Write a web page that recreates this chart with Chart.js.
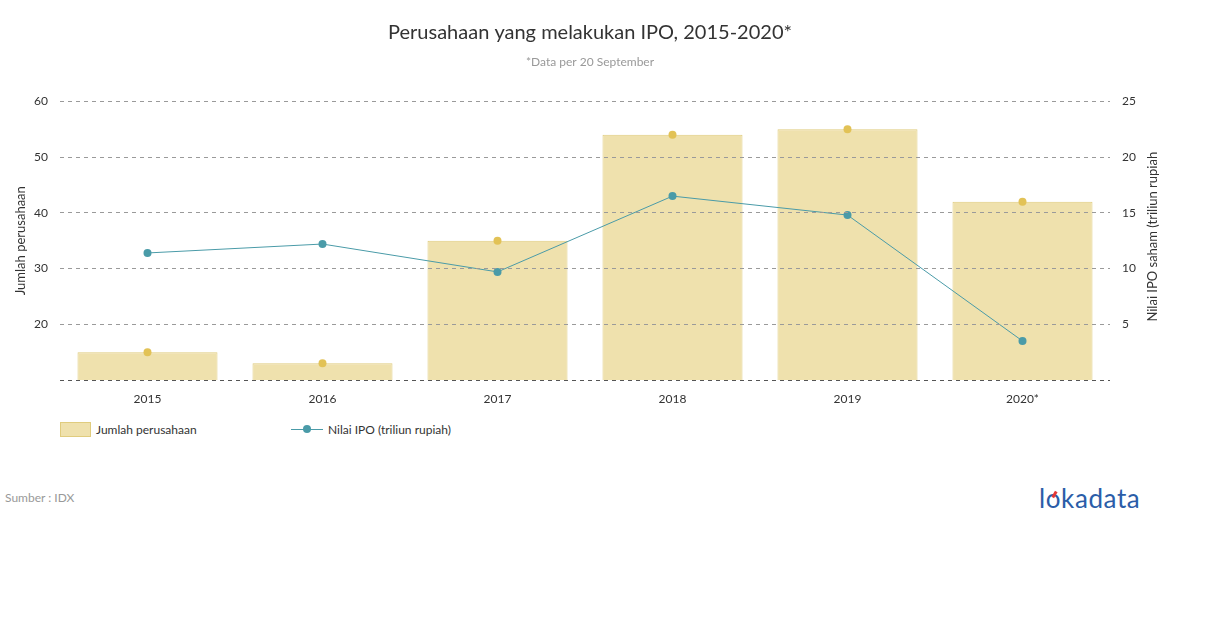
<!DOCTYPE html>
<html>
<head>
<meta charset="utf-8">
<script src="https://cdn.jsdelivr.net/npm/chart.js@4"></script>
<style>
  html, body { margin: 0; padding: 0; background: #fff; font-family: Lato, "Open Sans", sans-serif; }
  #wrap { position: relative; width: 1210px; height: 628px; }
  #chartBox { position: absolute; left: 0; top: 0; width: 1210px; height: 420px; }
  .legend { position: absolute; top: 422px; font-size: 12px; color: #333; display: flex; align-items: center; }
  .swatch { width: 31px; height: 15px; background: #EFE1AD; border: 1px solid #E0CC7E; box-sizing: border-box; margin-right: 5px; }
  .lineSw { position: relative; width: 32px; height: 15px; margin-right: 5px; }
  .lineSw::before { content: ""; position: absolute; left: 0; right: 0; top: 7px; height: 1px; background: #4A9BA8; }
  .lineSw::after { content: ""; position: absolute; left: 12px; top: 3px; width: 8px; height: 8px; border-radius: 50%; background: #4A9BA8; }
  #source { position: absolute; left: 5px; top: 490px; font-size: 12px; color: #999; }
  #logo { position: absolute; left: 1039px; top: 482px; font-size: 26px; color: #2B5DA8; font-family: Lato, sans-serif; letter-spacing: 0.6px; }
  #logo .o { position: relative; }
  #logo .o::after { content: ""; position: absolute; left: 7px; top: 9px; width: 3px; height: 7px; background: #E53935; transform: rotate(30deg); }
</style>
</head>
<body>
<div id="wrap">
  <div id="chartBox"><canvas id="c"></canvas></div>
  <div class="legend" style="left:60px;"><div class="swatch"></div><span>Jumlah perusahaan</span></div>
  <div class="legend" style="left:291px;"><div class="lineSw"></div><span>Nilai IPO (triliun rupiah)</span></div>
  <div id="source">Sumber : IDX</div>
  <div id="logo">l<span class="o">o</span>kadata</div>
</div>
<script>
const categories = ["2015", "2016", "2017", "2018", "2019", "2020*"];
const jumlahPerusahaan = [15, 13, 35, 54, 55, 42];
const nilaiIPO = [11.4, 12.2, 9.7, 16.5, 14.8, 3.5];
const leftTicks = [10, 20, 30, 40, 50, 60];
const rightTicks = [0, 5, 10, 15, 20, 25];

const rightTitlePlugin = {
  id: 'rightTitle',
  afterDraw(chart) {
    const ctx = chart.ctx;
    const area = chart.chartArea;
    ctx.save();
    ctx.translate(1153, (area.top + area.bottom) / 2 - 4);
    ctx.rotate(-Math.PI / 2);
    ctx.font = '13px Lato';
    ctx.fillStyle = '#333';
    ctx.textAlign = 'center';
    ctx.textBaseline = 'middle';
    ctx.fillText('Nilai IPO saham (triliun rupiah', 0, 0);
    ctx.restore();
  }
};

new Chart(document.getElementById('c'), {
  type: 'bar',
  data: {
    labels: categories,
    datasets: [
      {
        type: 'line',
        label: 'Nilai IPO (triliun rupiah)',
        data: nilaiIPO,
        yAxisID: 'y2',
        borderColor: '#4A9BA8',
        backgroundColor: '#4A9BA8',
        borderWidth: 1,
        pointRadius: 4,
        pointHoverRadius: 4,
        pointBorderWidth: 0,
        tension: 0,
        order: 0
      },
      {
        type: 'line',
        label: 'markers',
        data: jumlahPerusahaan,
        yAxisID: 'y',
        showLine: false,
        borderColor: '#E2C256',
        backgroundColor: '#E2C256',
        pointRadius: 4,
        pointBorderWidth: 0,
        order: 1
      },
      {
        type: 'bar',
        label: 'Jumlah perusahaan',
        data: jumlahPerusahaan,
        yAxisID: 'y',
        backgroundColor: '#EFE1AD',
        borderColor: '#E0CC7E',
        borderWidth: 1,
        categoryPercentage: 1,
        barPercentage: 0.8,
        order: 2
      }
    ]
  },
  options: {
    responsive: true,
    maintainAspectRatio: false,
    animation: false,
    layout: { padding: { left: 0, right: 30, top: 0, bottom: 0 } },
    plugins: {
      legend: { display: false },
      tooltip: { enabled: false },
      title: {
        display: true,
        text: 'Perusahaan yang melakukan IPO, 2015-2020*',
        color: '#333',
        font: { family: 'Lato', size: 20, weight: 'normal' },
        padding: { top: 21, bottom: 10 }
      },
      subtitle: {
        display: true,
        text: '*Data per 20 September',
        color: '#999',
        font: { family: 'Lato', size: 12, weight: 'normal' },
        padding: { top: 0, bottom: 32 }
      }
    },
    scales: {
      x: {
        grid: { display: false, drawTicks: false },
        border: { display: false },
        ticks: { color: '#333', font: { family: 'Lato', size: 12 }, padding: 12 },
        afterFit(s) { s.height = 40; }
      },
      y: {
        position: 'left',
        min: 10, max: 60,
        afterBuildTicks(s) { s.ticks = leftTicks.map(v => ({ value: v })); },
        grid: {
          z: 1,
          drawTicks: false,
          color: (c) => c.tick && c.tick.value === 10 ? '#555' : '#9a9a9a',
          lineWidth: 1
        },
        border: { display: false, dash: [4, 4] },
        ticks: {
          color: '#333',
          font: { family: 'Lato', size: 12 },
          padding: 12,
          callback: (v) => v === 10 ? '' : v
        },
        title: {
          display: true,
          text: 'Jumlah perusahaan',
          color: '#333',
          font: { family: 'Lato', size: 13 },
          padding: { top: 13, bottom: 0 }
        },
        afterFit(s) { s.width = 60; }
      },
      y2: {
        position: 'right',
        min: 0, max: 25,
        afterBuildTicks(s) { s.ticks = rightTicks.map(v => ({ value: v })); },
        grid: { display: false, drawTicks: false },
        border: { display: false },
        ticks: {
          color: '#333',
          font: { family: 'Lato', size: 12 },
          padding: 12,
          callback: (v) => v === 0 ? '' : v
        },
        afterFit(s) { s.width = 70; }
      }
    }
  },
  plugins: [rightTitlePlugin]
});
</script>
</body>
</html>
